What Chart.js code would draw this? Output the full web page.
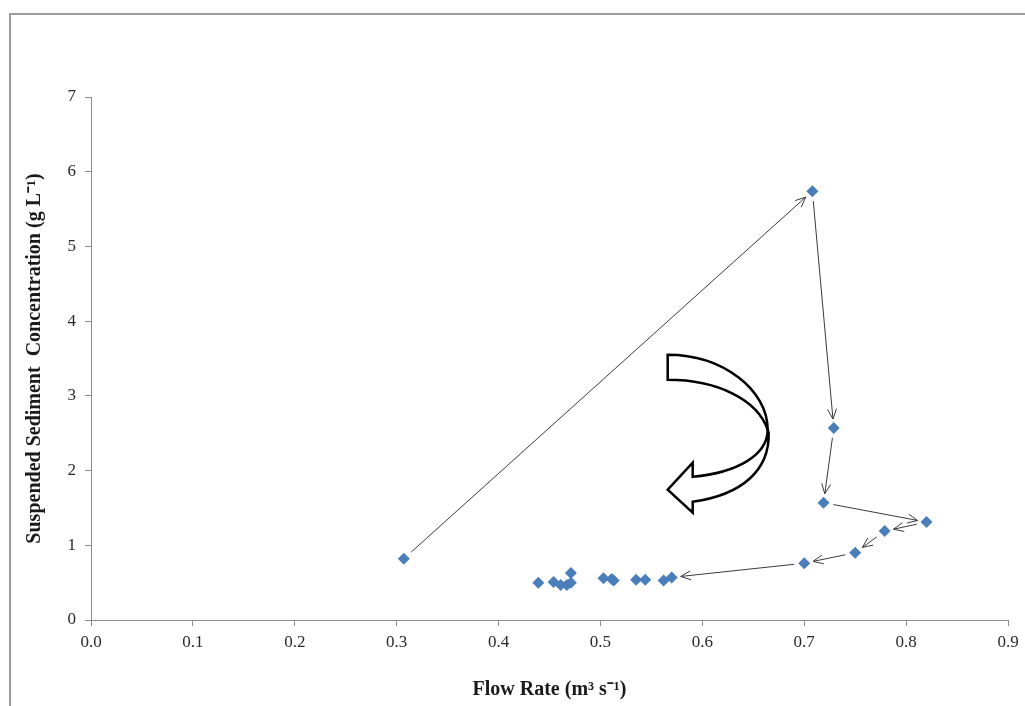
<!DOCTYPE html>
<html>
<head>
<meta charset="utf-8">
<script src="https://cdn.jsdelivr.net/npm/chart.js@4.4.1/dist/chart.umd.min.js"></script>
<style>
  html, body { margin: 0; padding: 0; background: #fff; }
  #wrap { position: relative; width: 1025px; height: 706px; }
</style>
</head>
<body>
<div id="wrap"><canvas id="hysteresisChart"></canvas></div>
<script>
// flow rate (m3/s) and suspended sediment (g/L), in time order
const flowRate = [0.307, 0.708, 0.729, 0.719, 0.820, 0.779, 0.750, 0.700, 0.570, 0.562,
                  0.544, 0.535, 0.513, 0.511, 0.503, 0.471, 0.471, 0.467, 0.461, 0.454, 0.439];
const sediment = [0.82, 5.74, 2.57, 1.57, 1.31, 1.19, 0.90, 0.76, 0.57, 0.53,
                  0.54, 0.54, 0.53, 0.55, 0.56, 0.63, 0.50, 0.47, 0.47, 0.51, 0.50];

// arrows follow the event from point i to point i+1
const arrowFrom = [0, 1, 2, 3, 4, 5, 6, 7];

const xTicks = [0, 0.1, 0.2, 0.3, 0.4, 0.5, 0.6, 0.7, 0.8, 0.9];
const yTicks = [0, 1, 2, 3, 4, 5, 6, 7];

const serif = '"Liberation Serif", "Times New Roman", serif';
const axisGray = '#8c8c8c';

const points = flowRate.map((f, i) => ({ x: f, y: sediment[i] }));

/* frame + arrows + curved hysteresis arrow */
const decorations = {
    id: 'decorations',
    beforeDraw(chart) {
        const c = chart.ctx;
        c.save();
        c.strokeStyle = '#9b9b9b';
        c.lineWidth = 2;
        c.beginPath();
        c.moveTo(10, chart.height);
        c.lineTo(10, 14);
        c.lineTo(chart.width, 14);
        c.stroke();
        c.restore();
    },
    afterDatasetsDraw(chart) {
        const c = chart.ctx;
        const xs = chart.scales.x, ys = chart.scales.y;

        c.save();
        c.strokeStyle = '#3a3a3a';
        c.lineWidth = 1;
        arrowFrom.forEach(i => {
            let x1 = xs.getPixelForValue(flowRate[i]), y1 = ys.getPixelForValue(sediment[i]);
            let x2 = xs.getPixelForValue(flowRate[i + 1]), y2 = ys.getPixelForValue(sediment[i + 1]);
            const len = Math.hypot(x2 - x1, y2 - y1);
            const ux = (x2 - x1) / len, uy = (y2 - y1) / len;
            const sx = x1 + ux * 10, sy = y1 + uy * 10;
            const ex = x2 - ux * 9, ey = y2 - uy * 9;
            const a = Math.atan2(ey - sy, ex - sx);
            c.beginPath();
            c.moveTo(sx, sy);
            c.lineTo(ex, ey);
            c.moveTo(ex - 11 * Math.cos(a - 0.42), ey - 11 * Math.sin(a - 0.42));
            c.lineTo(ex, ey);
            c.lineTo(ex - 11 * Math.cos(a + 0.42), ey - 11 * Math.sin(a + 0.42));
            c.stroke();
        });

        // curved block arrow (clockwise loop)
        const ox = xs.getPixelForValue(0.566), oy = ys.getPixelForValue(3.55);
        c.translate(ox, oy);
        c.fillStyle = '#fff';
        c.strokeStyle = '#000';
        c.lineWidth = 2.5;
        c.lineJoin = 'miter';

        c.beginPath();
        c.moveTo(0, 0);
        c.bezierCurveTo(55, 0, 100, 35, 100, 75);
        c.bezierCurveTo(90, 45, 50, 25, 0, 25);
        c.closePath();
        c.fill();
        c.stroke();

        c.beginPath();
        c.moveTo(100, 75);
        c.bezierCurveTo(100, 100, 70, 118, 25, 122);
        c.lineTo(25, 108);
        c.lineTo(0, 135);
        c.lineTo(25, 158);
        c.lineTo(25, 147);
        c.bezierCurveTo(75, 140, 102, 115, 101, 78);
        c.closePath();
        c.fill();
        c.stroke();
        c.restore();
    }
};

const ctx = document.getElementById('hysteresisChart').getContext('2d');

new Chart(ctx, {
    type: 'scatter',
    data: {
        datasets: [{
            label: 'SSC',
            data: points,
            pointStyle: 'rectRot',
            pointRadius: 6,
            pointHoverRadius: 6,
            backgroundColor: '#4a7ebb',
            borderColor: '#4a7ebb',
            borderWidth: 0
        }]
    },
    options: {
        responsive: true,
        maintainAspectRatio: false,
        animation: false,
        layout: { padding: { top: 97, right: 17, left: 0, bottom: 0 } },
        plugins: {
            legend: { display: false },
            tooltip: { enabled: false }
        },
        scales: {
            x: {
                type: 'linear',
                min: 0,
                max: 0.9,
                afterFit(s) { s.height = 86; },
                afterBuildTicks(s) { s.ticks = xTicks.map(v => ({ value: v })); },
                grid: { drawOnChartArea: false, drawTicks: true, tickLength: 6, color: axisGray },
                border: { display: true, color: axisGray, width: 1 },
                ticks: {
                    color: '#2a2a2a',
                    padding: 6,
                    maxRotation: 0,
                    font: { family: serif, size: 17 },
                    callback: v => v.toFixed(1)
                },
                title: {
                    display: true,
                    text: 'Flow Rate (m³ s⁻¹)',
                    color: '#1a1a1a',
                    font: { family: serif, size: 20, weight: 'bold' },
                    padding: { top: 0, bottom: 4 }
                }
            },
            y: {
                type: 'linear',
                min: 0,
                max: 7,
                afterFit(s) { s.width = 91; },
                afterBuildTicks(s) { s.ticks = yTicks.map(v => ({ value: v })); },
                grid: { drawOnChartArea: false, drawTicks: true, tickLength: 6, color: axisGray },
                border: { display: true, color: axisGray, width: 1 },
                ticks: {
                    color: '#2a2a2a',
                    padding: 9,
                    font: { family: serif, size: 17 },
                    callback: v => String(v)
                },
                title: {
                    display: true,
                    text: 'Suspended Sediment  Concentration (g L⁻¹)',
                    color: '#1a1a1a',
                    font: { family: serif, size: 20, weight: 'bold' },
                    padding: { top: 23, bottom: 0 }
                }
            }
        }
    },
    plugins: [decorations]
});
</script>
</body>
</html>
